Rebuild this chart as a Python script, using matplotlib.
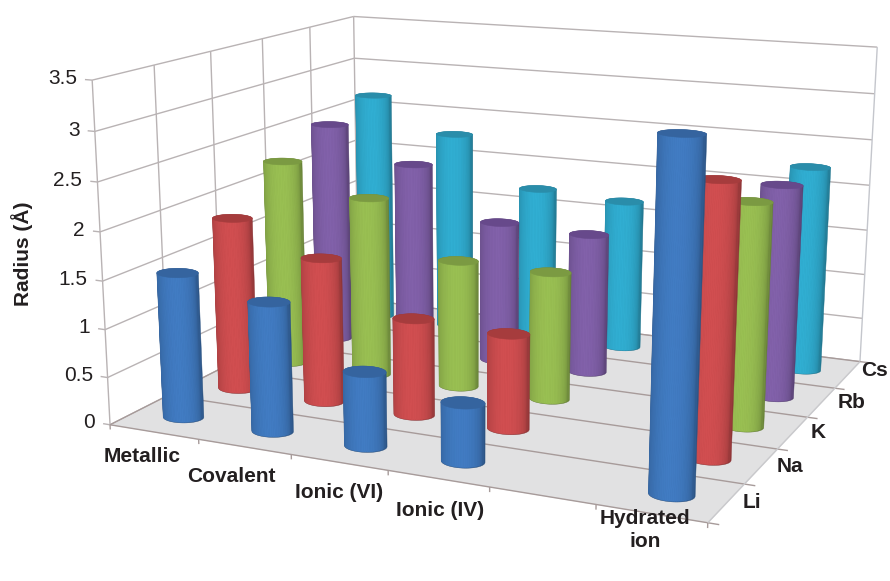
"""Alkali metal radii by radius type, drawn as a 3D cylinder chart."""
import numpy as np
import matplotlib
matplotlib.use("Agg")
import matplotlib.pyplot as plt
from matplotlib.colors import to_rgb
from mpl_toolkits.mplot3d.art3d import Line3DCollection, Poly3DCollection

WIDTH, HEIGHT = 890, 581

# x index 4 is an empty category between Ionic (IV) and Hydrated ion
categories = ["Metallic", "Covalent", "Ionic (VI)", "Ionic (IV)", "", "Hydrated\nion"]
series = ["Li", "Na", "K", "Rb", "Cs"]
li = [1.52, 1.34, 0.76, 0.59, np.nan, 3.34]
na = [1.86, 1.54, 1.02, 0.99, np.nan, 2.73]
k = [2.27, 1.96, 1.38, 1.37, np.nan, 2.31]
rb = [2.50, 2.13, 1.57, 1.54, np.nan, 2.27]
cs = [2.67, 2.29, 1.74, 1.69, np.nan, 2.26]
z_ticks = [0, 0.5, 1, 1.5, 2, 2.5, 3, 3.5]
z_labels = ["0", "0.5", "1", "1.5", "2", "2.5", "3", "3.5"]

side_colors = ["#3f78bd", "#cb4c4e", "#95ba50", "#7e5ea5", "#2fa9cc"]
cap_colors = ["#35649f", "#a63c3d", "#7b9a42", "#67498b", "#2a8daa"]
GRID = "#b9b3b4"
FLOOR_LINE = "#a79b9a"
TEXT = "#231f20"
RX, RY = 0.205, 0.17

plt.rcParams["font.family"] = ["Liberation Sans", "DejaVu Sans"]
fig = plt.figure(figsize=(WIDTH / 100, HEIGHT / 100), dpi=100)
ax = fig.add_axes([0, 0, 1, 1], projection="3d")
ax.set_axis_off()
ax.computed_zorder = False
ax.apply_aspect()

# box corners in data coordinates and where they land in pixels
box_xyz = np.array([[0, 0, 0], [6, 0, 0], [0, 5, 0], [6, 5, 0],
                    [0, 0, 3.5], [0, 5, 3.5], [6, 5, 3.5]], float)
box_px = np.array([[110, 422], [708, 525], [358, 302], [860, 359],
                   [92, 81], [354, 15], [877, 48]], float)


def camera_matrix(xyz, px):
    # direct linear transform from the box corners to 2D axes coordinates
    disp = np.column_stack([px[:, 0], HEIGHT - px[:, 1]])
    uv = ax.transData.inverted().transform(disp)
    rows = []
    for (x, y, z), (u, v) in zip(xyz, uv):
        rows.append([x, y, z, 1, 0, 0, 0, 0, -u * x, -u * y, -u * z, -u])
        rows.append([0, 0, 0, 0, x, y, z, 1, -v * x, -v * y, -v * z, -v])
    P = np.linalg.svd(np.array(rows))[2][-1].reshape(3, 4)
    depth = P[2] @ [3, 2.5, 1, 1]
    P = P / depth
    # third row gives a depth that grows away from the viewer
    return np.vstack([P[0], P[1], P[2] - [0, 0, 0, 0.5], P[2]])


M = camera_matrix(box_xyz, box_px)
ax.get_proj = lambda: M


def depth_of(x, y, z=0.0):
    return M[3] @ [x, y, z, 1]


def screen_x(x, y, z=0.0):
    return (M[0] @ [x, y, z, 1]) / (M[3] @ [x, y, z, 1])


def to_pixels(x, y, z):
    v = np.array([x, y, z, 1.0])
    w = M[3] @ v
    disp = ax.transData.transform([(M[0] @ v) / w, (M[1] @ v) / w])
    return disp[0], HEIGHT - disp[1]


def add_lines(segments, color=GRID, lw=1.0, zorder=2):
    col = Line3DCollection(segments, colors=color, linewidths=lw, zorder=zorder)
    ax.add_collection3d(col, autolim=False)
    col.set_clip_on(False)


def add_poly(verts, faces, edges=None, zorder=1, lw=0.0):
    col = Poly3DCollection(verts, facecolors=faces,
                           edgecolors=edges if edges is not None else faces,
                           linewidths=lw, zorder=zorder)
    ax.add_collection3d(col, autolim=False)
    col.set_clip_on(False)


def draw_cylinder(cx, cy, value, side, cap, zorder):
    n = 72
    t = np.linspace(0, 2 * np.pi, n, endpoint=False)
    cos_t, sin_t = np.cos(t), np.sin(t)
    xs, ys = cx + RX * cos_t, cy + RY * sin_t
    sx = np.array([screen_x(a, b) for a, b in zip(xs, ys)])
    left, right = int(sx.argmin()), int(sx.argmax())

    # split the ring at its silhouette points into near and far halves
    up = [(left + s) % n for s in range((right - left) % n + 1)]
    down = [(left - s) % n for s in range((left - right) % n + 1)]
    mid_up, mid_down = up[len(up) // 2], down[len(down) // 2]
    if depth_of(xs[mid_up], ys[mid_up]) < depth_of(xs[mid_down], ys[mid_down]):
        near, far = up, down
    else:
        near, far = down, up

    base = np.array(to_rgb(side))
    outline = [(xs[i], ys[i], 0) for i in near] + [(xs[i], ys[i], value) for i in far[::-1]]
    add_poly([outline], [base * 0.7], zorder=zorder, lw=0.3)

    # shaded strips sit just inside the silhouette so its edge stays clean
    u = (sx - sx.mean()) / (sx.max() - sx.min()) * 2
    sx_in = cx + 0.96 * RX * cos_t, cy + 0.96 * RY * sin_t
    verts, colors = [], []
    for a, b in zip(near[:-1], near[1:]):
        verts.append([(sx_in[0][a], sx_in[1][a], 0), (sx_in[0][b], sx_in[1][b], 0),
                      (sx_in[0][b], sx_in[1][b], value), (sx_in[0][a], sx_in[1][a], value)])
        um = np.clip((u[a] + u[b]) / 2 + 0.08, -1, 1)
        colors.append(np.clip(base * (0.76 + 0.27 * np.sqrt(1 - um ** 2)), 0, 1))
    add_poly(verts, colors, zorder=zorder + 0.2, lw=0.5)

    top = [list(zip(xs, ys, np.full_like(xs, value)))]
    add_poly(top, [cap], zorder=zorder + 0.5, lw=0.4)


# floor and its lines
add_poly([[(0, 0, 0), (6, 0, 0), (6, 5, 0), (0, 5, 0)]], ["#e1e1e2"], zorder=1)
floor_segs = []
for j in range(6):
    floor_segs.append([(0, j, 0), (6.1, j, 0)])
floor_segs.append([(0, 0, 0), (0, 5, 0)])
for i in range(7):
    floor_segs.append([(i, 0, 0), (i, 0, -0.05)])
add_lines(floor_segs, color=FLOOR_LINE, zorder=1.5)
add_lines([[(6, 0, 0), (6, 5, 0)]], color="#c9c9cc", zorder=1.5)

# wall gridlines
wall_segs = []
for z in z_ticks:
    wall_segs.append([(-0.08, 0, z), (0, 0, z)])
    wall_segs.append([(0, 0, z), (0, 5, z)])
    wall_segs.append([(0, 5, z), (6, 5, z)])
for j in range(6):
    wall_segs.append([(0, j, 0), (0, j, 3.5)])
add_lines(wall_segs, zorder=0.5)
add_lines([[(6, 5, 0), (6, 5, 3.5)]], color="#c4c6cc", zorder=0.5)

# cylinders, far ones first
table = [li, na, k, rb, cs]
order = []
for j, values in enumerate(table):
    for i, value in enumerate(values):
        if not np.isnan(value):
            order.append((depth_of(i + 0.5, j + 0.5), i, j, value))
order.sort(reverse=True)
for rank, (_, i, j, value) in enumerate(order):
    draw_cylinder(i + 0.5, j + 0.5, value, side_colors[j], cap_colors[j], 3 + rank)


def px_text(x, y, s, **kw):
    kw.setdefault("fontsize", 15)
    kw.setdefault("color", TEXT)
    kw.setdefault("ha", "center")
    kw.setdefault("va", "center")
    fig.text(x / WIDTH, 1 - y / HEIGHT, s, **kw)


for z, label in zip(z_ticks, z_labels):
    x, y = to_pixels(-0.17, 0, z)
    px_text(x, y, label, ha="right")

cat_x = [142, 231, 339, 440, 0, 645]
cat_y = [456, 477, 493, 511, 0, 530]
for name, x, y in zip(categories, cat_x, cat_y):
    if name:
        px_text(x, y, name, fontweight="bold", linespacing=1.3)

ser_x = [752, 790, 818, 852, 874]
ser_y = [503, 466, 432, 403, 371]
for name, x, y in zip(series, ser_x, ser_y):
    px_text(x, y, name, fontweight="bold")

px_text(22, 254, "Radius (Å)", fontweight="bold", rotation=90)

fig.savefig("out.png", dpi=100, facecolor="white")
